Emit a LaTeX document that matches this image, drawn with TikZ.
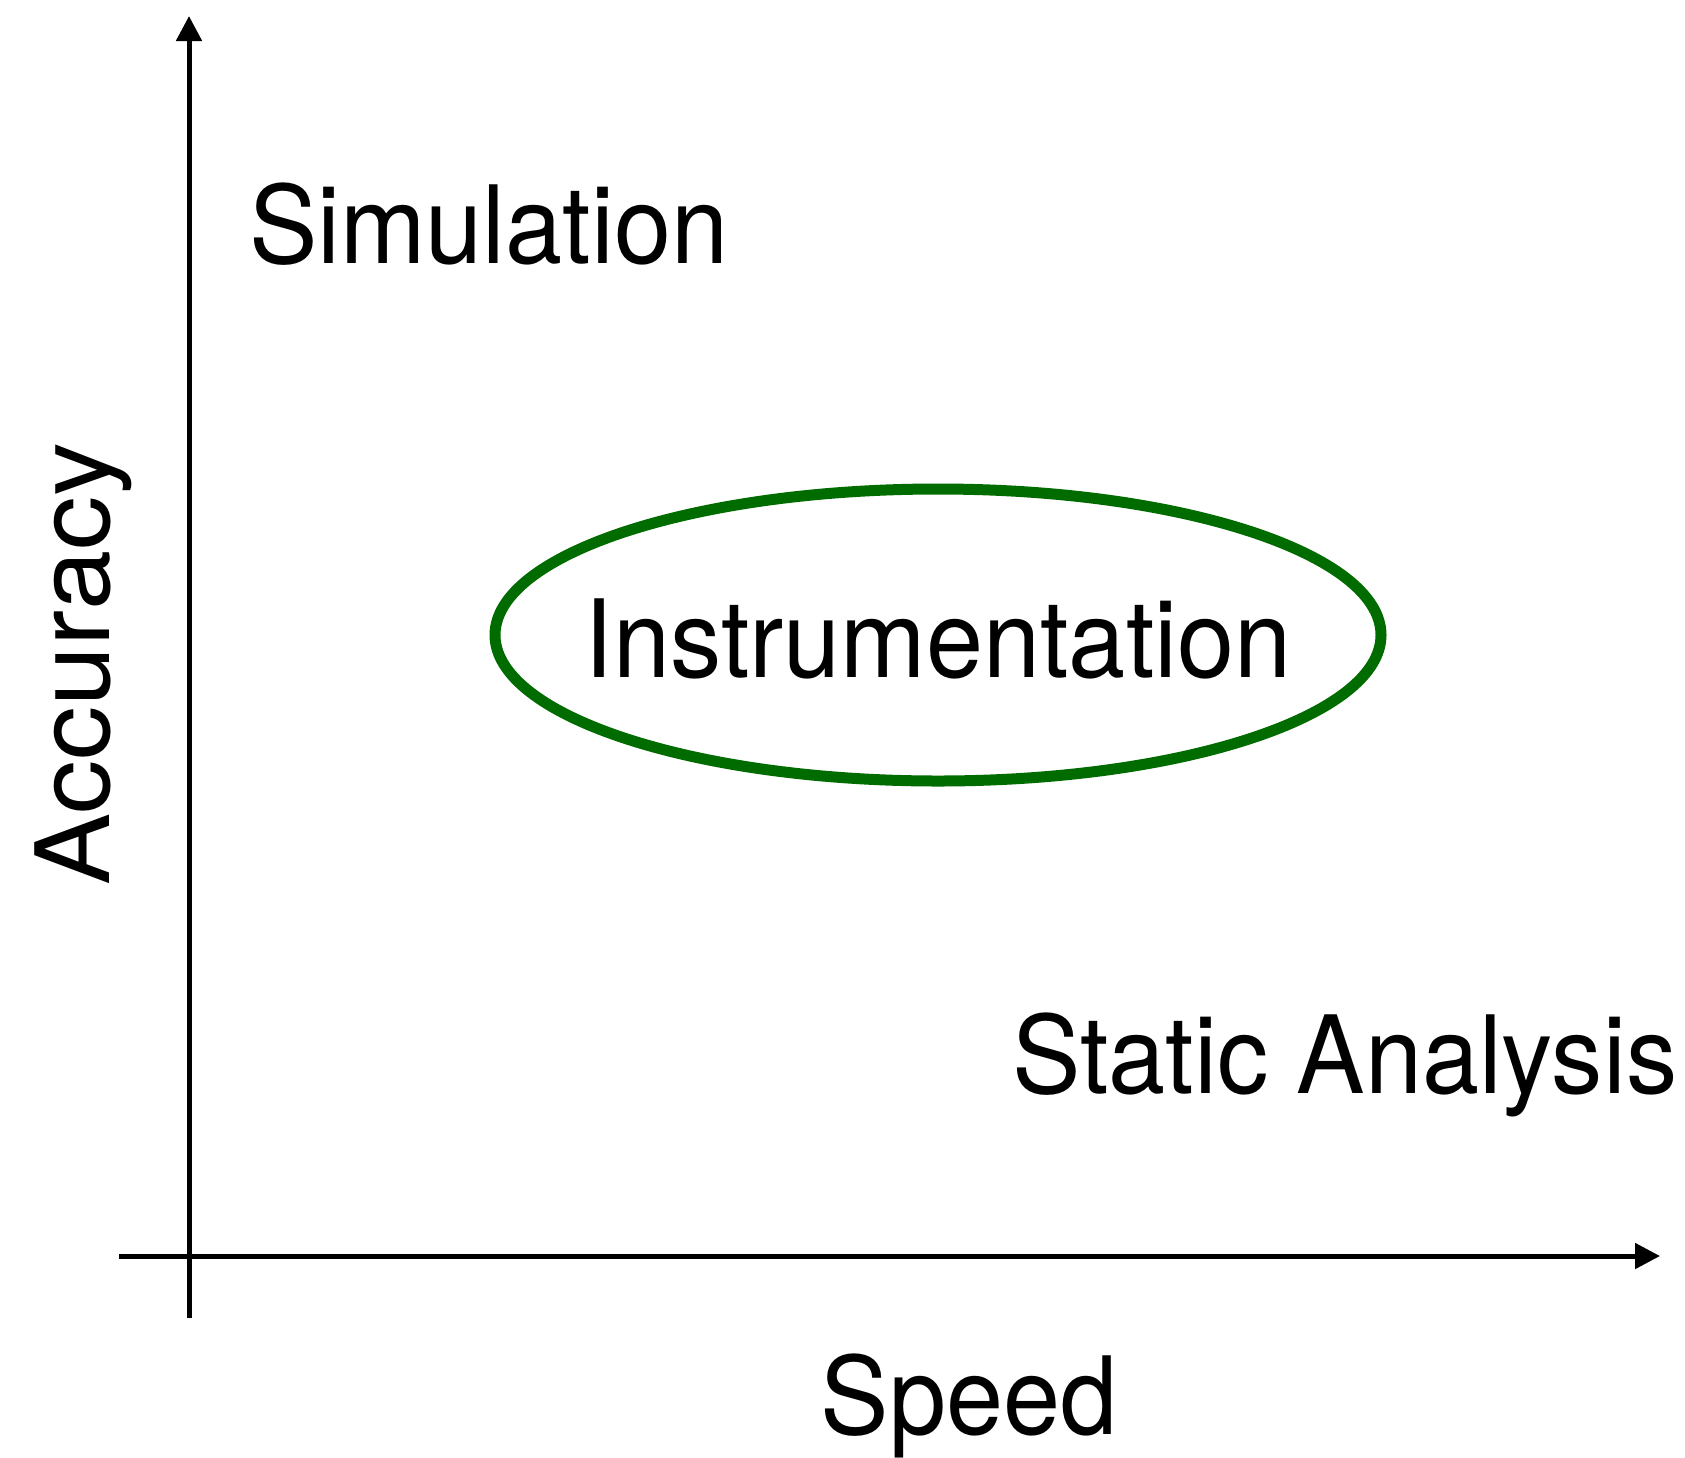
\documentclass[tikz,border=0pt]{standalone}
\usepackage{fontspec}
\setmainfont{TeX Gyre Heros}
\usetikzlibrary{arrows.meta,shapes.geometric}
\definecolor{ringgreen}{RGB}{0,108,0}
\begin{document}
\begin{tikzpicture}[x=1pt,y=-1pt,
  axis/.style={line width=5pt,-{Triangle[length=25pt,width=25pt]}},
  lbl/.style={font=\fontsize{108}{120}\selectfont,inner sep=0pt,xscale=0.95},
  ring/.style={draw=ringgreen,line width=11pt,ellipse,minimum width=886pt,minimum height=292pt,inner sep=0pt}]
  \useasboundingbox (0,0) rectangle (1685,1457);
  % axes
  \coordinate (ybot) at (189,1318);
  \coordinate (ytop) at (189,16);
  \coordinate (xleft) at (119,1256);
  \coordinate (xright) at (1660,1256);
  \draw[axis] (ybot) -- (ytop);
  \draw[axis] (xleft) -- (xright);
  % region marking instrumentation
  \node[ring] (inst) at (938,635) {};
  % labels
  \node[lbl,anchor=base west] (sim) at (249,263) {Simulation};
  \node[lbl,anchor=base] (instl) at (938,677) {Instrumentation};
  \node[lbl,anchor=base west] (stat) at (1012,1093) {Static Analysis};
  \node[lbl,anchor=base] (speed) at (969,1434) {Speed};
  \node[lbl,anchor=base,rotate=90] (acc) at (109,664) {Accuracy};
\end{tikzpicture}
\end{document}
